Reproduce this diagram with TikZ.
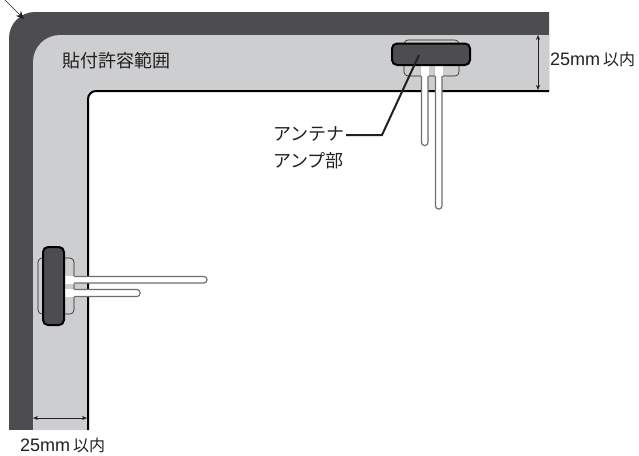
\documentclass[tikz,border=0pt]{standalone}
\usepackage{fontspec}
\setmainfont{Liberation Sans}
\newfontfamily\cjk{Noto Sans CJK JP}
\usetikzlibrary{arrows.meta}
\definecolor{darkband}{HTML}{4D4D4F}
\definecolor{midband}{HTML}{CDCECF}
\definecolor{inkline}{HTML}{231F20}
\definecolor{rodgray}{HTML}{6D6E70}
\tikzset{
  lbl/.style={anchor=west,inner sep=0pt,text=inkline,font=\fontsize{18}{18}\selectfont},
  pill/.style={draw=black,line width=2pt,fill=darkband,rounded corners=5pt},
  housing/.style={draw=inkline,line width=.6pt,fill=midband,rounded corners=4pt},
  rod/.style={draw=rodgray,line width=1.2pt,fill=white,rounded corners=3pt},
  dim/.style={draw=inkline,line width=.7pt,{Stealth[length=5pt,width=4pt]}-{Stealth[length=5pt,width=4pt]}},
  leader/.style={draw=inkline,line width=2pt,line join=miter},
  notch/.style={fill=white,draw=none}
}
\begin{document}
\begin{tikzpicture}[x=1pt,y=-1pt]
\useasboundingbox (0,0) rectangle (639,455);
% bands
\fill[darkband] (9,430) [rounded corners=26pt] -- (9,12) [sharp corners] -- (549,12) -- (549,430) -- cycle;
\fill[midband] (33,430) [rounded corners=27pt] -- (33,35) [sharp corners] -- (549,35) -- (549,91) [rounded corners=8pt] -- (88,91) [sharp corners] -- (88,430) -- cycle;
\fill[white] (88,432) [rounded corners=8pt] -- (88,91) [sharp corners] -- (551,91) -- (551,432) -- cycle;
\fill[midband] (33,425) rectangle (88,430);
\fill[white] (9,430) rectangle (88,432);
\draw[draw=black,line width=2pt] (88,430) [rounded corners=8pt] -- (88,91) [sharp corners] -- (549,91);
% top antenna
\draw[housing] (404,76) -- (404,40) -- (459,40) -- (459,76) -- cycle;
\draw[rod] (421.5,64) -- (421.5,145.5) -- (428,145.5) -- (428,64);
\draw[rod] (435.5,64) -- (435.5,209) -- (442,209) -- (442,64);
\fill[notch] (421,66) rectangle (428.5,76);
\fill[notch] (435,66) rectangle (442.5,76);
\draw[pill] (392,43.5) rectangle (470,65);
% left antenna
\draw[housing] (74,314) -- (38,314) -- (38,258) -- (74,258) -- cycle;
\draw[rod] (72,276.5) -- (207,276.5) -- (207,283) -- (72,283);
\draw[rod] (72,289.5) -- (140,289.5) -- (140,296.5) -- (72,296.5);
\fill[notch] (65,276) rectangle (74,283.5);
\fill[notch] (65,289) rectangle (74,297);
\draw[pill] (43,247) rectangle (64,325);
% arrow at corner
\coordinate (arrowfree) at (5,0);
\coordinate (arrowhead) at (24,19);
\draw[draw=inkline,line width=.7pt,-{Stealth[length=8pt,width=7pt]}] (arrowfree) -- (arrowhead);
% dimensions
\coordinate (ra) at (538,35);
\coordinate (rb) at (538,90);
\coordinate (ba) at (33,418);
\coordinate (bb) at (87,418);
\draw[dim] (ra) -- (rb);
\draw[dim] (ba) -- (bb);
% leader
\coordinate (la) at (419,55);
\coordinate (lb) at (382,135);
\coordinate (lc) at (346,135);
\draw[leader] (la) -- (lb) -- (lc);
% labels
\node[lbl] (area) at (62,61) {\cjk 貼付許容範囲};
\node[lbl] (ant) at (273,134) {\cjk アンテナ};
\node[lbl] (amp) at (273,161) {\cjk アンプ部};
\node[lbl] (rlabel) at (550,59) {25mm\hspace{3pt}{\cjk\fontsize{16}{16}\selectfont 以内}};
\node[lbl] (blabel) at (20,445) {25mm\hspace{3pt}{\cjk\fontsize{16}{16}\selectfont 以内}};
\end{tikzpicture}
\end{document}
